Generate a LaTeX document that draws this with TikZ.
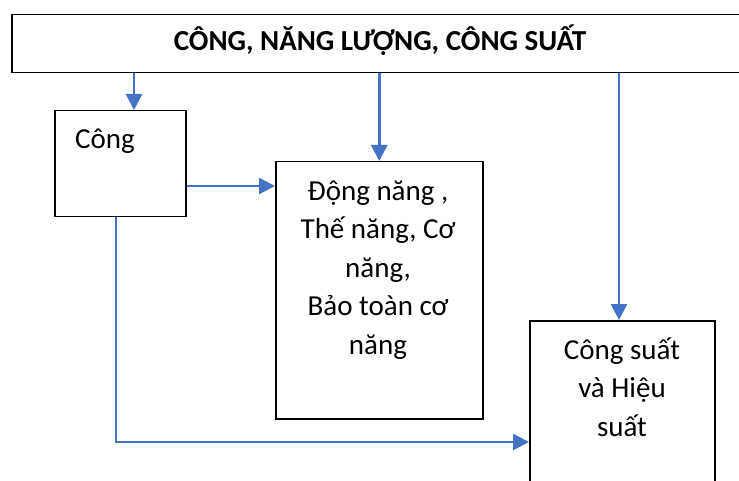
\documentclass[tikz,border=0pt]{standalone}
\usepackage{fontspec}
\setmainfont{Carlito}
\usetikzlibrary{arrows.meta,calc}
\definecolor{linkblue}{HTML}{4472C4}
\begin{document}
\begin{tikzpicture}[x=1pt,y=-1pt,
  box/.style={draw=black,line width=1.5pt,fill=white,inner sep=0pt,anchor=north west},
  link/.style={draw=linkblue,line width=2.5pt,-{Triangle[length=16pt,width=16pt]}},
  lbl/.style={font=\fontsize{29}{38.5}\selectfont,inner sep=0pt,align=center,anchor=base}]
\useasboundingbox (0,0) rectangle (739,481);
% boxes
\node[box,minimum width=740pt,minimum height=58pt] (top) at (11,14) {};
\node[box,minimum width=131pt,minimum height=106pt] (cong) at (54,110) {};
\node[box,minimum width=207pt,minimum height=257pt] (dong) at (275,161) {};
\node[box,minimum width=185pt,minimum height=180pt] (cs) at (529,320) {};
% texts (multi-line nodes are anchored at the baseline of their last line)
\node[lbl,font=\fontsize{29}{34}\selectfont\bfseries] (ttl) at (380,51) {CÔNG, NĂNG LƯỢNG, CÔNG SUẤT};
\node[lbl,anchor=base west] (tcong) at (75,149) {Công};
\node[lbl] (tdong) at (378,354) {Động năng ,\\Thế năng, Cơ\\năng,\\Bảo toàn cơ\\năng};
\node[lbl] (tcs) at (622,436) {Công suất\\và Hiệu\\suất};
% connector guides
\coordinate (xa) at (134,0);
\coordinate (xc) at (619,0);
\coordinate (ya) at (0,186);
\coordinate (xb) at (116,0);
\coordinate (yb) at (0,442);
\coordinate (corner) at (116,442);
% connectors
\draw[link] (top.south -| xa) -- (cong.north -| xa);
\draw[link] (top.south -| dong.north) -- (dong.north);
\draw[link] (top.south -| xc) -- (cs.north -| xc);
\draw[link] (cong.east |- ya) -- (dong.west |- ya);
\draw[link] (cong.south -| xb) -- (corner) -- (cs.west |- yb);
\end{tikzpicture}
\end{document}
